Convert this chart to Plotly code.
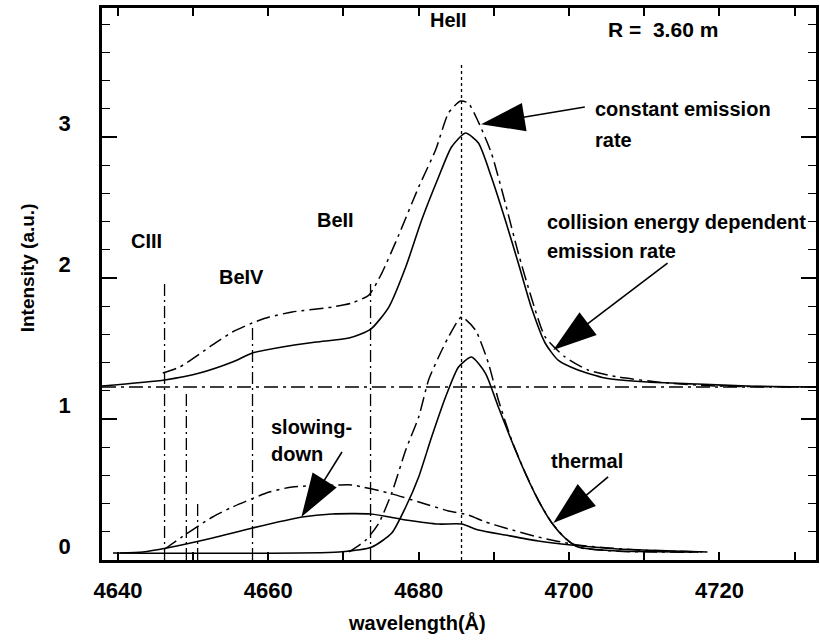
import plotly.graph_objects as go

# ---- spectra (wavelength in Angstrom, intensity in a.u.) ----
# total spectrum, collision energy dependent emission rate (offset by the baseline)
total_var_wl = [4637.88, 4646.23, 4650.86, 4655.23, 4657.88, 4661.85, 4666.36, 4670.73,
                4673.64, 4676.03, 4678.28, 4680.40, 4682.65, 4684.37, 4686.23, 4687.95,
                4689.67, 4691.52, 4693.25, 4694.97, 4696.82, 4698.54, 4701.19, 4704.77,
                4710.46, 4717.09, 4723.71, 4732.85]
total_var_int = [1.234, 1.277, 1.326, 1.404, 1.468, 1.511, 1.546, 1.574,
                 1.638, 1.794, 2.078, 2.411, 2.716, 2.929, 3.028, 2.957,
                 2.716, 2.411, 2.106, 1.794, 1.539, 1.418, 1.348, 1.291,
                 1.262, 1.248, 1.234, 1.227]

# total spectrum, constant emission rate
total_const_wl = [4645.96, 4648.21, 4652.58, 4655.23, 4657.88, 4660.13, 4663.18, 4668.48,
                  4671.13, 4673.38, 4675.10, 4677.35, 4680.00, 4682.25, 4683.97, 4685.56,
                  4686.60, 4687.95, 4689.67, 4691.52, 4693.25, 4694.97, 4696.82, 4699.47,
                  4702.50, 4706.50, 4713.10, 4719.70, 4732.85]
total_const_int = [1.326, 1.369, 1.525, 1.617, 1.681, 1.723, 1.759, 1.794,
                   1.823, 1.879, 2.035, 2.305, 2.645, 2.908, 3.170, 3.255,
                   3.241, 3.106, 2.887, 2.532, 2.177, 1.865, 1.582, 1.440,
                   1.348, 1.298, 1.255, 1.234, 1.227]

# thermal component, collision energy dependent emission rate
thermal_var_wl = [4639.34, 4669.40, 4673.77, 4676.42, 4678.28, 4680.00, 4681.72, 4683.58,
                  4685.30, 4687.02, 4688.87, 4690.60, 4692.32, 4694.17, 4695.89, 4697.62,
                  4699.47, 4701.19, 4706.50, 4717.09]
thermal_var_int = [0.050, 0.057, 0.092, 0.191, 0.376, 0.589, 0.872, 1.156,
                   1.369, 1.440, 1.326, 1.085, 0.851, 0.617, 0.426, 0.270,
                   0.156, 0.092, 0.064, 0.057]

# thermal component, constant emission rate
thermal_const_wl = [4670.73, 4672.98, 4674.70, 4676.42, 4678.28, 4680.00, 4681.32, 4682.65,
                    4683.97, 4685.70, 4687.55, 4689.27, 4690.60, 4692.40, 4694.25, 4695.95,
                    4697.70, 4699.55, 4701.30, 4706.60, 4717.20]
thermal_const_int = [0.057, 0.142, 0.262, 0.475, 0.780, 1.014, 1.277, 1.440,
                     1.582, 1.723, 1.631, 1.397, 1.135, 0.845, 0.610, 0.420,
                     0.265, 0.152, 0.090, 0.062, 0.055]

# slowing-down component, collision energy dependent emission rate
slowing_var_wl = [4640.26, 4643.31, 4646.49, 4652.58, 4657.88, 4664.50, 4668.48, 4673.64,
                  4678.28, 4682.65, 4685.70, 4687.95, 4691.52, 4695.89, 4700.26, 4706.49,
                  4718.41]
slowing_var_int = [0.050, 0.057, 0.085, 0.156, 0.227, 0.305, 0.326, 0.326,
                   0.284, 0.255, 0.255, 0.213, 0.177, 0.135, 0.106, 0.078,
                   0.057]

# slowing-down component, constant emission rate
slowing_const_wl = [4646.23, 4648.48, 4652.58, 4655.23, 4660.13, 4663.18, 4669.40, 4671.13,
                    4676.03, 4681.32, 4683.97, 4686.62, 4688.87, 4691.52, 4695.89, 4701.19,
                    4709.14, 4718.41]
slowing_const_int = [0.078, 0.163, 0.305, 0.376, 0.482, 0.518, 0.532, 0.532,
                     0.475, 0.390, 0.348, 0.319, 0.270, 0.227, 0.163, 0.106,
                     0.071, 0.057]

# flat offset level of the upper spectra
baseline_level = 1.227

# impurity line positions and heights of their markers
impurity_wl = [4646.2, 4649.1, 4650.6, 4657.9, 4673.6]
impurity_top = [1.96, 1.18, 0.40, 1.67, 1.96]

# HeII line centre
heii_wl = 4685.7
heii_top = 3.51

# pointer arrows: tail (start) and tip (end) in data units
arrow_tail_wl = [4702.1, 4713.1, 4669.8, 4705.2]
arrow_tail_int = [3.213, 2.106, 0.766, 0.589]
arrow_tip_wl = [4688.3, 4697.9, 4664.4, 4697.9]
arrow_tip_int = [3.09, 1.489, 0.305, 0.262]

# axis ranges and ticks
x_range = [4637.88, 4732.85]
y_range = [0.0, 3.915]
x_tick_vals = [4640, 4650, 4660, 4670, 4680, 4690, 4700, 4710, 4720, 4730]
x_tick_text = ["4640", "", "4660", "", "4680", "", "4700", "", "4720", ""]
y_tick_vals = [0, 1, 2, 3]
y_tick_text = ["0", "1", "2", "3"]

FONT = "Liberation Sans, Arial, sans-serif"
INK = "#000000"
DASHDOT = "14px,5px,3px,5px"

fig = go.Figure()


def add_line(x, y, dash="solid", width=1.5):
    fig.add_trace(go.Scatter(x=x, y=y, mode="lines", showlegend=False,
                             hoverinfo="skip",
                             line=dict(color=INK, width=width, dash=dash,
                                       shape="spline", smoothing=0.6)))


# baseline
fig.add_trace(go.Scatter(x=x_range, y=[baseline_level, baseline_level], mode="lines",
                         showlegend=False, hoverinfo="skip",
                         line=dict(color=INK, width=1.4, dash=DASHDOT)))

# impurity line markers
for wl, top in zip(impurity_wl, impurity_top):
    fig.add_trace(go.Scatter(x=[wl, wl], y=[y_range[0], top], mode="lines",
                             showlegend=False, hoverinfo="skip",
                             line=dict(color=INK, width=1.3, dash="12px,4px,2px,4px")))

# HeII line centre
fig.add_trace(go.Scatter(x=[heii_wl, heii_wl], y=[y_range[0], heii_top], mode="lines",
                         showlegend=False, hoverinfo="skip",
                         line=dict(color=INK, width=1.3, dash="3px,3px")))

add_line(total_var_wl, total_var_int, "solid", 1.6)
add_line(total_const_wl, total_const_int, DASHDOT, 1.5)
add_line(thermal_var_wl, thermal_var_int, "solid", 1.6)
add_line(thermal_const_wl, thermal_const_int, DASHDOT, 1.5)
add_line(slowing_var_wl, slowing_var_int, "solid", 1.6)
add_line(slowing_const_wl, slowing_const_int, DASHDOT, 1.5)

# pointer arrows: thin shaft with a long, narrow filled head at the tip
for tx, ty, hx, hy in zip(arrow_tail_wl, arrow_tail_int, arrow_tip_wl, arrow_tip_int):
    fig.add_trace(go.Scatter(x=[tx, hx], y=[ty, hy], mode="lines+markers",
                             showlegend=False, hoverinfo="skip",
                             line=dict(color=INK, width=1.6),
                             marker=dict(symbol="arrow", size=[0, 46], angleref="previous",
                                         color=INK, opacity=1, line=dict(width=0))))


# ---- labels ----
def label(text, x, y, xanchor="center", size=20):
    fig.add_annotation(x=x, y=y, xref="x", yref="y", text=text, showarrow=False,
                       xanchor=xanchor, yanchor="middle",
                       font=dict(family=FONT, size=size, color=INK, weight="bold"))


label("HeII", 4683.97, 3.83)
label("R =&nbsp;&nbsp;3.60 m", 4712.45, 3.76, size=21)
label("constant emission", 4703.18, 3.20, "left")
label("rate", 4703.18, 2.98, "left")
label("collision energy dependent", 4696.8, 2.40, "left")
label("emission rate", 4696.8, 2.19, "left")
label("CIII", 4643.8, 2.26)
label("BeIV", 4656.4, 2.01)
label("BeII", 4669.0, 2.41)
label("slowing-", 4660.13, 0.94, "left")
label("down", 4660.13, 0.75, "left")
label("thermal", 4702.38, 0.70)

# axis titles
fig.add_annotation(x=(27 - 102) / 717, y=(560 - 268) / 552, xref="paper", yref="paper",
                   xanchor="center", yanchor="middle",
                   text="Intensity (a.u.)", showarrow=False, textangle=-90,
                   font=dict(family=FONT, size=19, color=INK, weight="bold"))
fig.add_annotation(x=(418 - 102) / 717, y=(560 - 622) / 552, xref="paper", yref="paper",
                   xanchor="center", yanchor="middle",
                   text="wavelength(Å)", showarrow=False,
                   font=dict(family=FONT, size=20, color=INK, weight="bold"))

fig.update_layout(
    width=820, height=640,
    margin=dict(l=102, r=1, t=8, b=80),
    paper_bgcolor="white", plot_bgcolor="white",
    font=dict(family=FONT, color=INK),
    xaxis=dict(range=x_range, tickmode="array", tickvals=x_tick_vals, ticktext=x_tick_text,
               ticks="inside", ticklen=8, tickwidth=1.5, tickcolor=INK,
               showline=True, linewidth=2.5, linecolor=INK, mirror="ticks",
               showgrid=False, zeroline=False, ticklabelstandoff=9,
               tickfont=dict(family=FONT, size=22, color=INK, weight="bold")),
    yaxis=dict(range=y_range, tickmode="array", tickvals=y_tick_vals, ticktext=y_tick_text,
               ticks="inside", ticklen=15, tickwidth=1.5, tickcolor=INK,
               minor=dict(dtick=0.2, ticks="inside", ticklen=8, tickwidth=1.3,
                          tickcolor=INK, showgrid=False),
               showline=True, linewidth=2.5, linecolor=INK, mirror="ticks",
               showgrid=False, zeroline=False, ticklabelshift=-14, ticklabelstandoff=24,
               tickfont=dict(family=FONT, size=22, color=INK, weight="bold")),
)

fig.write_html("out.html")
